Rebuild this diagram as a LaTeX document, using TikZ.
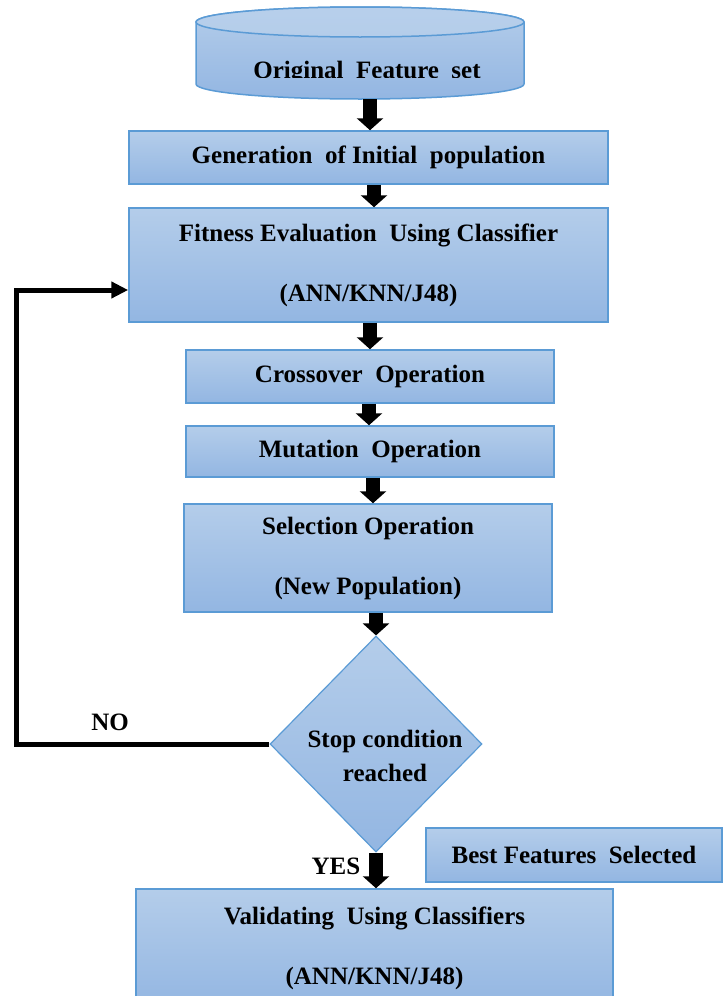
\documentclass[tikz,border=0pt]{standalone}
\usepackage{fontspec}
\setmainfont{Liberation Serif}
\usetikzlibrary{shapes.geometric,arrows.meta}
\definecolor{bord}{HTML}{5B9BD5}
\definecolor{ftop}{HTML}{B4CDEA}
\definecolor{fbot}{HTML}{93B6E2}
\tikzset{
  txt/.style={font=\fontsize{25}{30}\selectfont\bfseries},
  shade/.style={draw=bord, line width=1.5pt, top color=ftop, bottom color=fbot},
  box/.style={txt, shade, inner sep=0pt, align=center},
  flow/.style={line width=14pt, -{Triangle[width=26pt,length=12pt]}},
  loopback/.style={line width=5pt, line join=miter, -{Triangle[width=16pt,length=17pt]}},
}
\begin{document}
\begin{tikzpicture}[x=1pt,y=-1pt]
\useasboundingbox (0,0) rectangle (724,996);
\clip (0,0) rectangle (724,996);
% cylinder
\path[shade] (196,22) -- (196,84) arc[start angle=180, end angle=360, x radius=164pt, y radius=15pt]
  -- (524,22) arc[start angle=0, end angle=180, x radius=164pt, y radius=15pt] -- cycle;
\path[shade, top color=ftop!95!white, bottom color=ftop] (360,22) ellipse [x radius=164pt, y radius=15pt];
\begin{scope}
\clip (196,0) rectangle (524,77);
\node[txt, anchor=base, inner sep=0pt] (orig) at (367,78) {Original\ \ Feature\ \ set};
\end{scope}
\node[box, minimum width=479pt, minimum height=53pt] (gen) at (368.5,157.5)
  {Generation\ \ of Initial\ \ population};
\node[box, minimum width=479pt, minimum height=114pt] (fit) at (368.5,265)
  {Fitness Evaluation\ \ Using Classifier\\[30pt](ANN/KNN/J48)};
\node[box, minimum width=368pt, minimum height=53pt] (cross) at (370,376.5)
  {Crossover\ \ Operation};
\node[box, minimum width=368pt, minimum height=51pt] (mut) at (370,451.5)
  {Mutation\ \ Operation};
\node[box, minimum width=368pt, minimum height=108pt] (sel) at (368,558)
  {Selection Operation\\[30pt](New Population)};
\node[box, diamond, minimum width=212pt, minimum height=216pt, line width=1.2pt] (dia) at (376,744)
  {\makebox[0pt]{\hspace*{18pt}\raisebox{-21pt}[0pt][0pt]{\begin{tabular}{@{}c@{}}Stop condition\\[4pt]reached\end{tabular}}}};
\node[box, minimum width=296pt, minimum height=54pt] (best) at (574,855)
  {Best Features\ \ Selected};
\node[box, minimum width=477pt, minimum height=119pt] (val) at (374.5,948.5)
  {Validating\ \ Using Classifiers\\[30pt](ANN/KNN/J48)};
\node[txt] (no) at (110,722) {NO};
\node[txt] (yes) at (336,866) {YES};
\coordinate (corner) at (16,744);
\draw[flow] ([xshift=3pt,yshift=-21pt]orig.base) -- ([xshift=3pt]orig.base |- gen.north);
\draw[flow] ([xshift=5.5pt]gen.south) -- ([xshift=5.5pt]gen.south |- fit.north);
\draw[flow] ([xshift=1.5pt]fit.south) -- ([xshift=1.5pt]fit.south |- cross.north);
\draw[flow] ([xshift=-1pt]cross.south) -- ([xshift=-1pt]cross.south |- mut.north);
\draw[flow] ([xshift=3pt]mut.south) -- ([xshift=3pt]mut.south |- sel.north);
\draw[flow] (sel.south -| dia.north) -- (dia.north);
\draw[flow] (dia.south) -- (dia.south |- val.north);
\draw[loopback] (dia.west) -- (corner) |- ([yshift=-25pt]fit.west);
\end{tikzpicture}
\end{document}
